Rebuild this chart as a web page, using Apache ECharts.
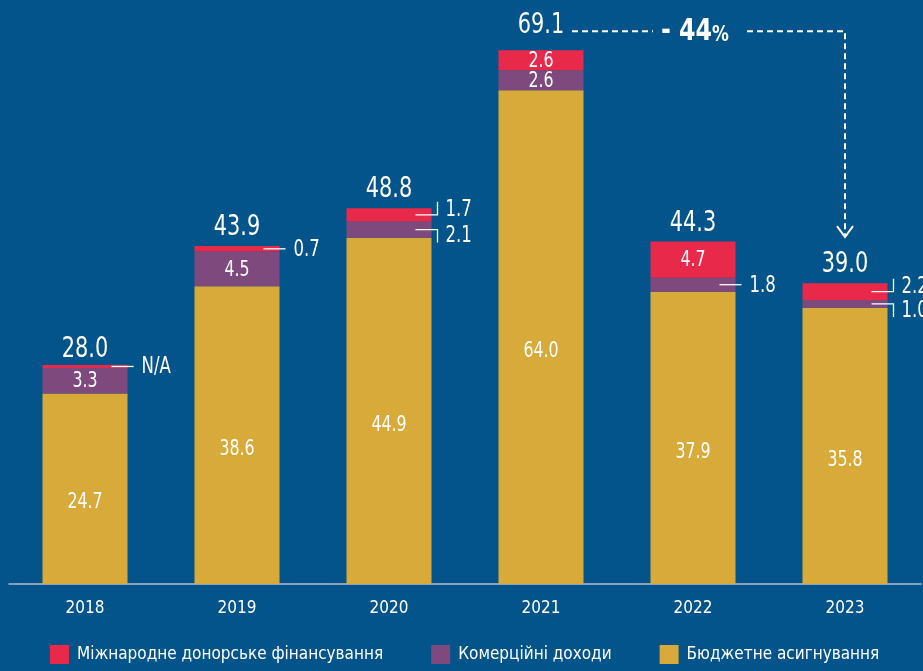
<!DOCTYPE html>
<html><head><meta charset="utf-8">
<script src="https://cdn.jsdelivr.net/npm/echarts@6/dist/echarts.min.js"></script>
<style>html,body{margin:0;padding:0;background:#02548A;}#c{width:923px;height:671px;}</style>
</head><body><div id="c"></div>
<script>
// ---- data ----
const years = ['2018', '2019', '2020', '2021', '2022', '2023'];
const budget = [24.7, 38.6, 44.9, 64.0, 37.9, 35.8];
const commercial = [3.3, 4.5, 2.1, 2.6, 1.8, 1.0];
const donor = [0, 0.7, 1.7, 2.6, 4.7, 2.2];            // 2018: N/A
const donorLabels = ['N/A', '0.7', '1.7', '2.6', '4.7', '2.2'];
const totals = [28.0, 43.9, 48.8, 69.1, 44.3, 39.0];
const changeLabel = ['-', '44', '%'];
const seriesNames = ['Міжнародне донорське фінансування', 'Комерційні доходи', 'Бюджетне асигнування'];

// ---- styling ----
const FONT = '"DejaVu Sans Condensed", "Roboto", sans-serif';
const C_RED = '#E8294A', C_PURPLE = '#7E4A7E', C_YELLOW = '#D7AA3A', BG = '#02548A';
const HALF_BAR = 42.5;
const INSIDE_MIN = 2.5;
const SX = 0.8; // horizontal squeeze to mimic a condensed face

const stackTop = years.map((_, i) => budget[i] + commercial[i] + donor[i]);

// callouts for thin segments
const callouts = [];
years.forEach((_, i) => {
  const cOut = commercial[i] < INSIDE_MIN;
  const dOut = donor[i] < INSIDE_MIN;
  const both = cOut && dOut && donor[i] > 0;
  if (dOut) callouts.push({ i, v: budget[i] + commercial[i] + Math.max(donor[i], 0.4) / 2, text: donorLabels[i], dir: both ? -1 : 0 });
  if (cOut) callouts.push({ i, v: budget[i] + commercial[i] / 2, text: commercial[i].toFixed(1), dir: both ? 1 : 0 });
});

// inside labels (segments tall enough)
const insideLabels = [];
years.forEach((_, i) => {
  insideLabels.push({ i, v: budget[i] / 2, text: budget[i].toFixed(1), dy: 14 });
  if (commercial[i] >= INSIDE_MIN) insideLabels.push({ i, v: budget[i] + commercial[i] / 2, text: commercial[i].toFixed(1), dy: 1 });
  if (donor[i] >= INSIDE_MIN) insideLabels.push({ i, v: budget[i] + commercial[i] + donor[i] / 2, text: donorLabels[i], dy: 1 });
});

const peak = totals.indexOf(Math.max(...totals));
const last = totals.length - 1;

const chart = echarts.init(document.getElementById('c'), null, { renderer: 'canvas' });

function squeezedText(x, y, text, size, align, vAlign, extra) {
  return {
    type: 'text', x: x, y: y, scaleX: SX,
    style: Object.assign({
      x: 0, y: 0, text: text, fill: '#fff', font: size + 'px ' + FONT,
      align: align, verticalAlign: vAlign
    }, extra || {})
  };
}

chart.setOption({
  backgroundColor: BG,
  animation: false,
  grid: { left: 9, right: 2, top: 44, bottom: 87, containLabel: false },
  xAxis: {
    type: 'category', data: years,
    axisLine: { lineStyle: { color: '#A9BCCE', width: 1.5 } },
    axisTick: { show: false },
    axisLabel: { color: '#fff', fontFamily: FONT, fontSize: 17, margin: 16 }
  },
  yAxis: { type: 'value', min: 0, max: 70, show: false, splitLine: { show: false } },
  legend: {
    data: seriesNames, left: 45, bottom: 2, icon: 'rect', itemWidth: 19, itemHeight: 19, itemGap: 48,
    textStyle: { color: '#fff', fontFamily: FONT, fontSize: 17, padding: [0, 0, 0, 3] }
  },
  series: [
    {
      name: seriesNames[2], type: 'bar', stack: 's', data: budget, barWidth: 85,
      itemStyle: { color: C_YELLOW }
    },
    {
      name: seriesNames[1], type: 'bar', stack: 's', data: commercial, barWidth: 85,
      itemStyle: { color: C_PURPLE }
    },
    {
      name: seriesNames[0], type: 'bar', stack: 's', data: donor, barWidth: 85, barMinHeight: 3,
      itemStyle: { color: C_RED }
    },
    {
      // inside segment labels
      type: 'custom', silent: true, z: 10,
      data: insideLabels.map(l => [l.i, l.v]),
      renderItem(params, api) {
        const l = insideLabels[params.dataIndex];
        const p = api.coord([api.value(0), api.value(1)]);
        return squeezedText(p[0], p[1] + l.dy, l.text, 22, 'center', 'middle');
      }
    },
    {
      // totals above bars
      type: 'custom', silent: true, z: 10,
      data: years.map((_, i) => [i, stackTop[i]]),
      renderItem(params, api) {
        const i = params.dataIndex;
        const p = api.coord([api.value(0), api.value(1)]);
        const gap = (i === peak) ? 10 : 4;
        return squeezedText(p[0], p[1] - gap, totals[i].toFixed(1), 29, 'center', 'bottom');
      }
    },
    {
      // callouts for thin segments
      type: 'custom', silent: true, z: 10,
      data: callouts.map(c => [c.i, c.v]),
      renderItem(params, api) {
        const c = callouts[params.dataIndex];
        const p = api.coord([api.value(0), api.value(1)]);
        const x0 = p[0] + HALF_BAR - 16, x1 = p[0] + HALF_BAR + 6, y = p[1];
        const pts = c.dir === 0 ? [[x0, y], [x1, y]] : [[x0, y], [x1, y], [x1, y + c.dir * 13]];
        return {
          type: 'group', children: [
            { type: 'polyline', shape: { points: pts }, style: { stroke: '#fff', lineWidth: 1.3, fill: null } },
            squeezedText(x1 + 8, y + c.dir * 6 + 1, c.text, 23, 'left', 'middle')
          ]
        };
      }
    },
    {
      // change arrow from peak to last year
      type: 'custom', silent: true, z: 10,
      data: [[peak, stackTop[peak]]],
      renderItem(params, api) {
        const a = api.coord([peak, stackTop[peak]]);
        const b = api.coord([last, stackTop[last]]);
        const y = a[1] - 19;
        const dash = { stroke: '#fff', lineWidth: 2, lineDash: [6, 4], fill: null };
        const tipY = b[1] - 46;
        return {
          type: 'group', children: [
            { type: 'line', shape: { x1: a[0] + 31, y1: y, x2: a[0] + 112, y2: y }, style: dash },
            {
              type: 'text', x: a[0] + 154, y: y + 1, scaleX: 0.85,
              style: {
                x: 0, y: 0,
                text: '{a|' + changeLabel[0] + ' ' + changeLabel[1] + '}{b|' + changeLabel[2] + '}',
                align: 'center', verticalAlign: 'middle',
                rich: {
                  a: { fill: '#fff', fontFamily: FONT, fontWeight: 'bold', fontSize: 31 },
                  b: { fill: '#fff', fontFamily: FONT, fontWeight: 'bold', fontSize: 22, padding: [6, 0, 0, 0] }
                }
              }
            },
            { type: 'polyline', shape: { points: [[a[0] + 206, y], [b[0], y], [b[0], tipY - 1]] }, style: dash },
            {
              type: 'polyline', shape: { points: [[b[0] - 8, tipY - 11], [b[0], tipY], [b[0] + 8, tipY - 11]] },
              style: { stroke: '#fff', lineWidth: 2, fill: null }
            }
          ]
        };
      }
    }
  ]
});
</script>
</body></html>
